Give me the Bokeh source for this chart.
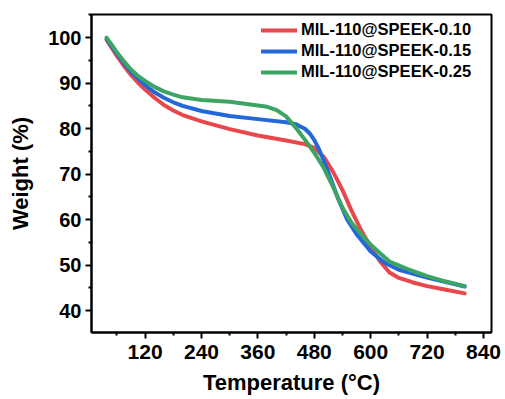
from bokeh.plotting import figure
from bokeh.models import Legend, LegendItem, FixedTicker
from bokeh.embed import file_html
from bokeh.resources import INLINE

# ---- data ----
t_010 = [38, 50, 60, 75, 90, 105, 120, 140, 160, 180, 200, 240, 300, 360, 420, 460, 480, 500, 520, 540, 560, 580, 600, 620, 640, 660, 690, 720, 760, 800]
w_010 = [99.5, 97.6, 96.0, 93.8, 91.8, 90.1, 88.6, 86.8, 85.2, 84.0, 83.0, 81.6, 79.9, 78.5, 77.4, 76.6, 75.8, 73.8, 70.5, 66.5, 61.8, 57.6, 54.0, 50.8, 48.4, 47.2, 46.2, 45.4, 44.6, 43.8]

t_015 = [38, 50, 60, 75, 90, 105, 120, 140, 160, 180, 200, 240, 300, 360, 420, 440, 460, 470, 480, 490, 500, 515, 530, 550, 570, 600, 630, 660, 720, 760, 800]
w_015 = [99.7, 98.0, 96.5, 94.4, 92.5, 91.0, 89.6, 88.0, 86.8, 85.8, 85.0, 83.9, 82.8, 82.1, 81.4, 81.0, 80.0, 79.0, 77.5, 75.5, 73.0, 69.0, 64.8, 60.0, 56.8, 53.0, 50.5, 49.0, 47.3, 46.3, 45.3]

t_025 = [38, 50, 60, 75, 90, 105, 120, 140, 160, 180, 200, 240, 300, 360, 380, 400, 420, 440, 460, 480, 500, 520, 540, 560, 580, 600, 620, 640, 680, 720, 760, 800]
w_025 = [100.0, 98.3, 96.8, 94.8, 93.0, 91.6, 90.5, 89.2, 88.2, 87.5, 86.9, 86.3, 85.9, 85.1, 84.8, 84.1, 82.7, 80.3, 77.6, 74.7, 71.4, 67.2, 62.6, 59.2, 56.8, 54.5, 52.6, 50.8, 49.1, 47.6, 46.4, 45.4]

series_names = ["MIL-110@SPEEK-0.10", "MIL-110@SPEEK-0.15", "MIL-110@SPEEK-0.25"]
series_colors = ["#E8474C", "#2468D8", "#3DA564"]

x_ticks = [120, 240, 360, 480, 600, 720, 840]
y_ticks = [40, 50, 60, 70, 80, 90, 100]

FONT = "Liberation Sans"

p = figure(width=505, height=399, output_backend="svg", toolbar_location=None,
           x_range=(6, 857), y_range=(35.2, 105.1),
           min_border_left=91, min_border_right=14, min_border_top=14, min_border_bottom=67)
p.background_fill_color = "white"
p.border_fill_color = "white"
p.grid.visible = False
p.outline_line_color = "black"
p.outline_line_width = 2

renderers = []
for t, w, c in zip([t_010, t_015, t_025], [w_010, w_015, w_025], series_colors):
    r = p.line(t, w, line_color=c, line_width=4, line_join="round", line_cap="round")
    renderers.append(r)

p.xaxis.ticker = FixedTicker(ticks=x_ticks, minor_ticks=[t - 60 for t in x_ticks] + [900])
p.yaxis.ticker = FixedTicker(ticks=y_ticks, minor_ticks=[35, 45, 55, 65, 75, 85, 95, 105])

for ax in (p.xaxis[0], p.yaxis[0]):
    ax.axis_line_width = 2
    ax.axis_line_color = "black"
    ax.major_tick_line_width = 2
    ax.minor_tick_line_width = 2
    ax.major_tick_out = 6
    ax.major_tick_in = 0
    ax.minor_tick_out = 3
    ax.minor_tick_in = 0
    ax.major_label_text_font = FONT
    ax.major_label_text_font_style = "bold"
    ax.major_label_text_color = "black"
    ax.axis_label_text_font = FONT
    ax.axis_label_text_font_style = "bold"
    ax.axis_label_text_color = "black"
    ax.axis_label_text_font_size = "22px"

p.xaxis.major_label_text_font_size = "21px"
p.yaxis.major_label_text_font_size = "20px"
p.xaxis.major_label_standoff = 6
p.yaxis.major_label_standoff = 4
p.xaxis.axis_label = "Temperature (°C)"
p.yaxis.axis_label = "Weight (%)"
p.xaxis.axis_label_standoff = 8
p.yaxis.axis_label_standoff = 12

legend = Legend(items=[LegendItem(label=n, renderers=[r]) for n, r in zip(series_names, renderers)],
                location=(170, 251), padding=0, margin=0, spacing=2,
                glyph_width=36, glyph_height=16, label_height=16, label_standoff=4,
                label_text_font=FONT, label_text_font_style="bold", label_text_font_size="16.5px",
                label_text_color="black",
                border_line_alpha=0, background_fill_alpha=0)
p.add_layout(legend)

open("out.html", "w").write(file_html(p, INLINE))
